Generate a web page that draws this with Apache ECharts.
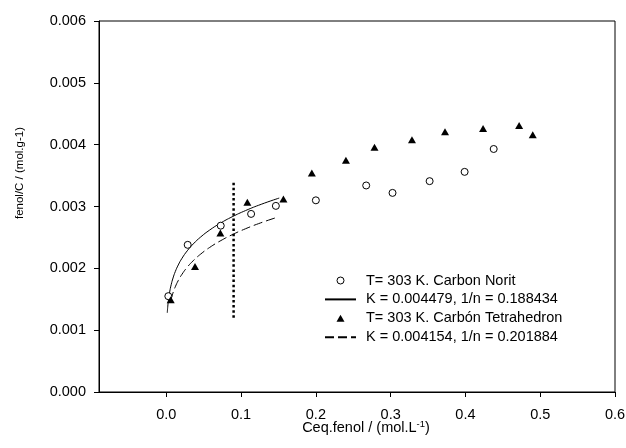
<!DOCTYPE html>
<html>
<head>
<meta charset="utf-8">
<script src="https://cdn.jsdelivr.net/npm/echarts@6/dist/echarts.min.js"></script>
<style>
  html, body { margin: 0; padding: 0; background: #fff; }
  #chart { width: 626px; height: 448px; }
</style>
</head>
<body>
<div id="chart"></div>
<script>
// Phenol adsorption at 303 K: equilibrium concentration vs. amount adsorbed
const noritC = [0.0027, 0.0286, 0.0728, 0.1134, 0.1465, 0.2000, 0.2673, 0.3025, 0.3521, 0.3989, 0.4378];
const noritQ = [0.00155, 0.00238, 0.00269, 0.00288, 0.00301, 0.00310, 0.00334, 0.00322, 0.00341, 0.00356, 0.00393];

const tetraC = [0.0059, 0.0384, 0.0723, 0.1084, 0.1566, 0.1946, 0.2402, 0.2784, 0.3285, 0.3727, 0.4236, 0.4718, 0.4900];
const tetraQ = [0.00149, 0.00203, 0.00257, 0.00307, 0.00312, 0.00354, 0.00375, 0.00396, 0.00408, 0.00421, 0.00426, 0.00431, 0.00416];

// Freundlich fit parameters, as given in the legend
const noritK = 0.004479, noritInvN = 0.188434;
const tetraK = 0.004154, tetraInvN = 0.201884;

// Concentrations at which each fitted isotherm is evaluated
const noritFitC = [0.0013, 0.002, 0.003, 0.0045, 0.0065, 0.009, 0.012, 0.016, 0.021, 0.028, 0.036, 0.046, 0.058, 0.072, 0.088, 0.106, 0.127, 0.151];
const tetraFitC = [0.006, 0.0075, 0.0095, 0.012, 0.016, 0.021, 0.028, 0.036, 0.046, 0.058, 0.072, 0.088, 0.106, 0.126, 0.148];

// Vertical dotted marker line
const markerC = [0.09, 0.09];
const markerQ = [0.0012, 0.0034];

const xTicks = [0, 0.1, 0.2, 0.3, 0.4, 0.5, 0.6];

const names = [
  'T= 303 K. Carbon Norit',
  'K = 0.004479, 1/n = 0.188434',
  'T= 303 K. Carbón Tetrahedron',
  'K = 0.004154, 1/n = 0.201884'
];

const pairs = (xs, ys) => xs.map((x, i) => [x, ys[i]]);
const freundlich = (cs, k, invN) => cs.map(c => [c, k * Math.pow(c, invN)]);

const FONT = 'Liberation Sans, Arial, sans-serif';
const FS = 14.5;

const chart = echarts.init(document.getElementById('chart'), null, { renderer: 'canvas' });

chart.setOption({
  animation: false,
  backgroundColor: '#fff',
  textStyle: { fontFamily: FONT, color: '#000' },
  grid: {
    left: 99, top: 21, right: 11, bottom: 56,
    containLabel: false,
    outerBoundsMode: 'none',
    show: true, borderColor: '#000', borderWidth: 1, backgroundColor: 'transparent'
  },
  xAxis: {
    type: 'value',
    min: -0.09, max: 0.6,
    axisLine: { show: true, onZero: false, lineStyle: { color: '#000', width: 1 } },
    axisTick: { show: true, inside: false, length: 5, customValues: xTicks, lineStyle: { color: '#000' } },
    axisLabel: {
      customValues: xTicks, margin: 15, color: '#000', fontSize: FS, fontFamily: FONT,
      formatter: v => v.toFixed(1)
    },
    splitLine: { show: false },
    name: '{b|Ceq.fenol / (mol.L}{s|-1}{b|)}',
    nameLocation: 'middle',
    nameGap: 27,
    nameMoveOverlap: false,
    nameTextStyle: {
      padding: [0, 0, 0, 18],
      rich: {
        b: { fontSize: FS, fontFamily: FONT, color: '#000', lineHeight: 17 },
        s: { fontSize: 9.5, fontFamily: FONT, color: '#000', verticalAlign: 'top', lineHeight: 9 }
      }
    }
  },
  yAxis: {
    type: 'value',
    min: 0, max: 0.006, interval: 0.001,
    axisLine: { show: true, onZero: false, lineStyle: { color: '#000', width: 1 } },
    axisTick: { show: true, inside: false, length: 5, lineStyle: { color: '#000' } },
    axisLabel: {
      margin: 13, color: '#000', fontSize: FS, fontFamily: FONT,
      formatter: v => v.toFixed(3)
    },
    splitLine: { show: false }
  },
  graphic: [{
    type: 'text',
    x: 20, y: 173,
    rotation: Math.PI / 2,
    style: {
      text: 'fenol/C / (mol.g-1)',
      font: '11.5px ' + FONT,
      fill: '#000',
      textAlign: 'center',
      textVerticalAlign: 'middle'
    }
  }],
  legend: {
    data: [
      { name: names[0], icon: 'circle', itemStyle: { color: '#fff', borderColor: '#000', borderWidth: 1 } },
      { name: names[1], itemStyle: { opacity: 0 } },
      { name: names[2], icon: 'path://M4,0L8,7L0,7Z', itemStyle: { color: '#000', borderWidth: 0 } },
      { name: names[3], itemStyle: { opacity: 0 } }
    ],
    orient: 'vertical',
    left: 319, top: 268,
    itemWidth: 31, itemHeight: 7, itemGap: 3.9,
    symbolKeepAspect: true,
    selectedMode: false,
    textStyle: { fontSize: FS, fontFamily: FONT, color: '#000', lineHeight: 14, padding: [0, 0, 0, 5] }
  },
  series: [
    {
      name: names[1],
      type: 'line',
      data: freundlich(noritFitC, noritK, noritInvN),
      smooth: true,
      symbol: 'none',
      itemStyle: { color: '#000' },
      lineStyle: { color: '#000', width: 1 },
      z: 2
    },
    {
      name: names[3],
      type: 'line',
      data: freundlich(tetraFitC, tetraK, tetraInvN),
      smooth: true,
      symbol: 'none',
      itemStyle: { color: '#000' },
      lineStyle: { color: '#000', width: 1, type: [9, 4] },
      z: 2
    },
    {
      name: 'marker',
      type: 'line',
      data: pairs(markerC, markerQ),
      symbol: 'none',
      lineStyle: { color: '#000', width: 2.5, type: [2.5, 2.6] },
      z: 2
    },
    {
      name: names[0],
      type: 'scatter',
      data: pairs(noritC, noritQ),
      symbol: 'circle',
      symbolSize: 7,
      itemStyle: { color: '#fff', borderColor: '#000', borderWidth: 1, opacity: 1 },
      z: 3
    },
    {
      name: names[2],
      type: 'scatter',
      data: pairs(tetraC, tetraQ),
      symbol: 'triangle',
      symbolSize: [8, 7],
      itemStyle: { color: '#000', opacity: 1 },
      z: 3
    }
  ]
});
</script>
</body>
</html>
